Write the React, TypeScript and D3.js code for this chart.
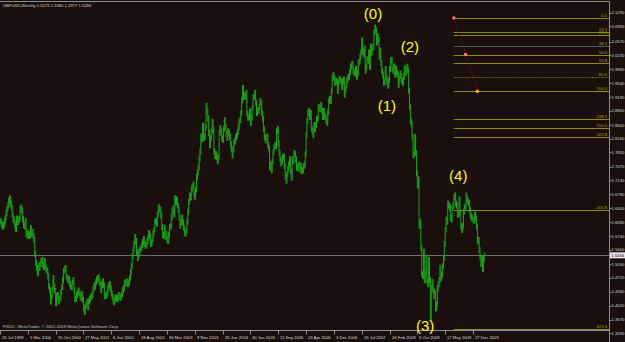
import React from "react";
import * as d3 from "d3";

const W = 625;
const H = 342;

// Weekly closes, GBPUSD, starting week of 25 Jul 1999
const closes1999 = [1.612,1.608,1.602,1.598,1.603,1.611,1.620,1.632,1.642,1.651,1.662,1.668,1.655,1.645,1.628,1.617,1.611,1.601,1.592,1.618,1.609,1.614,1.617];
const closes2000 = [1.642,1.645,1.638,1.616, 1.602,1.598,1.612,1.578, 1.583,1.574,1.579,1.575,1.594, 1.580,1.585,1.575,1.565, 1.530,1.508,1.495,1.482, 1.500,1.495,1.505,1.512,1.515, 1.503,1.497,1.512,1.497, 1.490,1.488,1.474,1.450, 1.440,1.412,1.425,1.442,1.470, 1.450,1.438,1.408,1.426, 1.428,1.412,1.418,1.421, 1.435,1.448,1.465,1.488,1.493];
const closes2001 = [1.495,1.475,1.470,1.464, 1.468,1.455,1.449,1.448, 1.458,1.465,1.440,1.418,1.419, 1.428,1.434,1.439,1.432, 1.425,1.420,1.430,1.416, 1.395,1.386,1.400,1.405,1.412, 1.398,1.413,1.418,1.423, 1.425,1.430,1.443,1.452,1.449, 1.460,1.466,1.470,1.472, 1.462,1.455,1.440,1.453, 1.462,1.452,1.425,1.428,1.426, 1.432,1.445,1.452,1.455];
const closes2002 = [1.443,1.432,1.423,1.414, 1.410,1.420,1.422,1.418, 1.420,1.428,1.425,1.421,1.424, 1.430,1.440,1.445,1.458, 1.460,1.457,1.462,1.455,1.459, 1.470,1.485,1.500,1.525, 1.540,1.555,1.572,1.562, 1.535,1.520,1.530,1.538,1.541, 1.545,1.552,1.560,1.567, 1.555,1.550,1.552,1.561, 1.570,1.582,1.575,1.555,1.558, 1.568,1.582,1.590,1.610];
const closes2003 = [1.612,1.605,1.628,1.646,1.642, 1.640,1.625,1.597,1.577, 1.575,1.595,1.572,1.580, 1.565,1.562,1.578,1.597, 1.600,1.622,1.635,1.643,1.628, 1.668,1.658,1.665,1.651, 1.640,1.620,1.600,1.609, 1.620,1.608,1.595,1.583,1.580, 1.588,1.610,1.635,1.660, 1.675,1.670,1.690,1.697,1.702, 1.680,1.672,1.690,1.722, 1.732,1.745,1.765,1.785];
const closes2004 = [1.822,1.815,1.848,1.818,1.821, 1.845,1.898,1.885,1.866, 1.830,1.800,1.818,1.835, 1.858,1.838,1.785,1.773,1.778, 1.770,1.760,1.772,1.831, 1.842,1.835,1.818,1.813, 1.840,1.862,1.845,1.828,1.818, 1.835,1.830,1.820,1.802, 1.790,1.775,1.790,1.808, 1.810,1.820,1.825,1.833,1.845, 1.860,1.862,1.880,1.912, 1.942,1.920,1.925,1.920,1.930];
const closes2005 = [1.878,1.868,1.870,1.884, 1.855,1.868,1.892,1.919, 1.920,1.930,1.905,1.880,1.887, 1.885,1.895,1.910,1.905, 1.880,1.865,1.840,1.820, 1.812,1.820,1.822,1.800,1.792, 1.745,1.752,1.738,1.760, 1.782,1.795,1.800,1.798, 1.835,1.840,1.805,1.780,1.765, 1.755,1.760,1.770,1.772, 1.748,1.722,1.712,1.728, 1.742,1.752,1.765,1.735,1.719];
const closes2006 = [1.765,1.760,1.780,1.778, 1.765,1.745,1.742,1.750, 1.752,1.738,1.748,1.735,1.738, 1.748,1.752,1.778,1.825, 1.860,1.880,1.885,1.870, 1.880,1.842,1.835,1.825,1.850, 1.840,1.850,1.865,1.867, 1.895,1.892,1.890,1.900, 1.885,1.870,1.885,1.872,1.870, 1.860,1.855,1.882,1.910, 1.915,1.910,1.935,1.967, 1.975,1.968,1.955,1.960,1.958];
const closes2007 = [1.935,1.955,1.965,1.962, 1.960,1.945,1.958,1.963, 1.925,1.940,1.950,1.962,1.968, 1.970,1.980,1.995,2.000, 2.002,1.985,1.980,1.978, 1.990,1.970,1.980,2.005,2.008, 2.020,2.030,2.060,2.033, 2.025,2.040,1.985,1.995,2.013, 2.010,2.030,1.995,2.045, 2.030,2.040,2.045,2.080, 2.092,2.085,2.055,2.070,2.062, 2.020,2.035,2.005,1.985];
const closes2008 = [1.975,1.955,1.958,1.989, 1.968,1.955,1.948,1.962,1.989, 2.010,2.012,1.990,1.985, 1.995,1.975,1.990,1.980, 1.975,1.950,1.965,1.978,1.972, 1.960,1.955,1.970,1.991, 1.980,1.985,1.995,1.985, 1.935,1.895,1.860,1.852,1.820, 1.775,1.780,1.820,1.780, 1.730,1.700,1.715,1.600,1.610, 1.545,1.480,1.475,1.536, 1.465,1.480,1.520,1.462];
const closes2009 = [1.455,1.515,1.465,1.370,1.445, 1.460,1.440,1.425,1.433, 1.395,1.405,1.445,1.455, 1.465,1.495,1.470,1.479, 1.500,1.520,1.555,1.590,1.615, 1.610,1.655,1.650,1.645, 1.620,1.615,1.645,1.650,1.670, 1.675,1.655,1.650,1.627, 1.630,1.665,1.630,1.598, 1.590,1.600,1.635,1.645,1.648, 1.675,1.665,1.660,1.656, 1.640,1.625,1.620,1.615];
const closes2010 = [1.615,1.612,1.628,1.618,1.598, 1.562,1.565,1.540,1.522, 1.505,1.518,1.492,1.5175, 1.5266];

const dateLabels = ["25 Jul 1999","5 Mar 2000","15 Oct 2000","27 May 2001","6 Jan 2002","18 Aug 2002","30 Mar 2003","9 Nov 2003","20 Jun 2004","30 Jan 2005","11 Sep 2005","23 Apr 2006","3 Dec 2006","15 Jul 2007","24 Feb 2008","5 Oct 2008","17 May 2009","27 Dec 2009"];
const weeksPerDateLabel = 32;

const priceLabels = ["2.1290","2.0950","2.0570","2.0230","1.9880","1.9540","1.9190","1.8850","1.8500","1.8160","1.7820","1.7470","1.7130","1.6780","1.6440","1.6090","1.5740","1.5400","1.5050","1.4710","1.4360","1.4020","1.3670","1.3330"];

const titleText = "GBPUSD,Weekly  1.5175 1.5380 1.4977 1.5266";
const copyrightText = "FXDD - MetaTrader, \u00A9 2001-2009 MetaQuotes Software Corp.";
const currentPrice = 1.5266;

const fibHigh = 2.1161;
const fibLow = 1.934;
const fibLevels = [0, 19.1, 23.6, 38.2, 50, 61.8, 80, 100, 138.2, 150, 161.8, 261.8, 423.6];
const fibStartWeek = 522;
const fibEndWeek = 549;

const waveLabels = ["(0)", "(1)", "(2)", "(3)", "(4)"];
const waveWeeks = [429, 445, 471.5, 489, 527];
const wavePrices = [2.113, 1.885, 2.031, 1.338, 1.711];

const closes = [
  ...closes1999, ...closes2000, ...closes2001, ...closes2002, ...closes2003, ...closes2004,
  ...closes2005, ...closes2006, ...closes2007, ...closes2008, ...closes2009, ...closes2010,
];

export default function App() {
  const x = d3.scaleLinear().domain([0, 544]).range([0, 473]);
  const y = d3.scaleLinear().domain([1.333, 2.129]).range([333.3, 12.7]);

  const plotRight = 609.5;
  const plotTop = 1.5;
  const plotBottom = 330.5;
  const bg = "#1a0f0c";
  const axisColor = "#8a8f96";
  const font = "'Liberation Sans', Arial, sans-serif";
  const small = 4.2;

  const barPath = closes
    .map((c, i) => {
      const o = i > 0 ? closes[i - 1] : c;
      const hi = Math.max(o, c);
      const lo = Math.min(o, c);
      const xx = x(i);
      return `M${xx.toFixed(2)},${(y(hi) - 3).toFixed(2)}V${(y(lo) + 3).toFixed(2)}`;
    })
    .join("");

  const fibX1 = x(fibStartWeek);
  const fibX2 = x(fibEndWeek);
  const fibPrice = (L: number) => fibHigh - ((fibHigh - fibLow) * L) / 100;

  return (
    <svg
      width={W}
      height={H}
      style={{ position: "fixed", left: 0, top: 0, display: "block" }}
      fontFamily={font}
    >
      <defs>
        <clipPath id="plotClip">
          <rect x={0} y={plotTop} width={plotRight} height={plotBottom - plotTop} />
        </clipPath>
      </defs>
      <rect x={0} y={0} width={W} height={H} fill={bg} />

      {/* current price line */}
      <line x1={0} x2={plotRight} y1={Math.round(y(currentPrice)) + 0.5} y2={Math.round(y(currentPrice)) + 0.5} stroke="#6c6f74" strokeWidth={1} />

      {/* fib lines */}
      <g clipPath="url(#plotClip)">
        {fibLevels.map((L) => {
          const yy = Math.round(y(fibPrice(L))) + 0.5;
          let stroke = "#8c8c00";
          let dash: string | undefined = undefined;
          if (L === 38.2) stroke = "#4a5858";
          if (L === 80) { stroke = "#5e5e12"; dash = "2 1"; }
          return (
            <g key={L}>
              <line x1={fibX1} x2={plotRight} y1={yy} y2={yy} stroke={stroke} strokeWidth={1} strokeDasharray={dash} />
              <text x={607} y={yy - 1.2} fontSize={small} fill="#a8a800" textAnchor="end">
                {L === 0 ? "0.0" : L.toFixed(1)}
              </text>
            </g>
          );
        })}
        <line x1={fibX1} y1={y(fibHigh)} x2={fibX2} y2={y(fibLow)} stroke="#9a1010" strokeWidth={1} strokeDasharray="1 2" />
        {[
          [fibX1, y(fibHigh), "#ff6a6a"],
          [(fibX1 + fibX2) / 2, (y(fibHigh) + y(fibLow)) / 2, "#ff8080"],
          [fibX2, y(fibLow), "#ffaa22"],
        ].map(([cx, cy, c], i) => (
          <rect key={i} x={(cx as number) - 1.5} y={(cy as number) - 1.5} width={3} height={3} fill={c as string} />
        ))}
      </g>

      {/* price bars */}
      <g clipPath="url(#plotClip)">
        <path d={barPath} stroke="#17a817" strokeWidth={1} fill="none" />
      </g>

      {/* frame */}
      <line x1={0} x2={plotRight} y1={plotTop} y2={plotTop} stroke={axisColor} strokeWidth={1} />
      <line x1={plotRight} x2={plotRight} y1={plotTop} y2={H} stroke={axisColor} strokeWidth={1} />
      <line x1={0} x2={plotRight} y1={plotBottom} y2={plotBottom} stroke={axisColor} strokeWidth={1} />

      {/* price axis */}
      {priceLabels.map((lab) => {
        const yy = y(parseFloat(lab));
        return (
          <g key={lab}>
            <line x1={plotRight} x2={plotRight + 2} y1={Math.round(yy) + 0.5} y2={Math.round(yy) + 0.5} stroke={axisColor} />
            <text x={611.5} y={yy + 1.5} fontSize={small} fill="#d6d6d6">{lab}</text>
          </g>
        );
      })}
      <rect x={610} y={y(currentPrice) - 3} width={15} height={6} fill="#e8e8e8" />
      <text x={611.3} y={y(currentPrice) + 1.5} fontSize={small} fill="#000">{currentPrice.toFixed(4)}</text>

      {/* time axis */}
      {dateLabels.map((lab, k) => {
        const xx = Math.round(x(k * weeksPerDateLabel)) + 0.5;
        return (
          <g key={lab}>
            <line x1={xx} x2={xx} y1={plotBottom} y2={plotBottom + 4} stroke={axisColor} />
            <text x={xx + 1.5} y={339} fontSize={small} fill="#d6d6d6">{lab}</text>
          </g>
        );
      })}

      {/* texts */}
      <text x={3} y={6.5} fontSize={small} fill="#d0d0d0">{titleText}</text>
      <text x={3} y={328.3} fontSize={small} fill="#c0c0c0">{copyrightText}</text>

      {/* Elliott wave labels */}
      {waveLabels.map((lab, i) => (
        <text key={lab} x={x(waveWeeks[i])} y={y(wavePrices[i])} fontSize={15} fill="#ffff00" textAnchor="middle">
          {lab}
        </text>
      ))}
    </svg>
  );
}
